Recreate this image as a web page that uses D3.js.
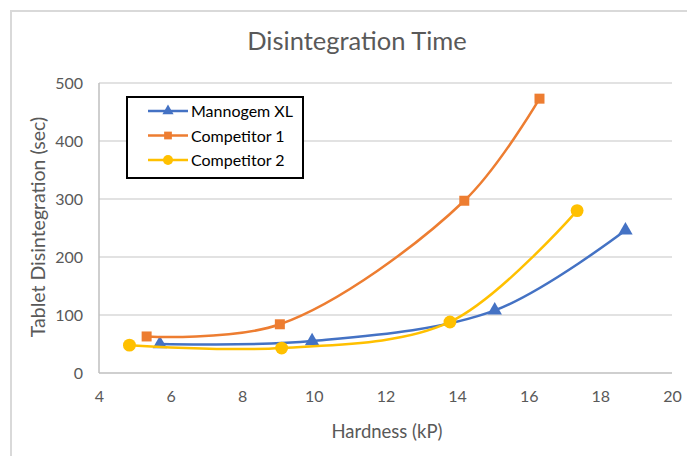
<!DOCTYPE html>
<html><head><meta charset="utf-8">
<script src="https://cdn.jsdelivr.net/npm/d3@7"></script>
<style>body{margin:0;background:#fff;}svg{display:block;font-family:Lato,"Open Sans",sans-serif;}</style>
</head><body>
<script>
const seriesNames = ["Mannogem XL", "Competitor 1", "Competitor 2"];
const mannogemX = [5.7, 9.95, 15.05, 18.7];
const mannogemY = [50, 55, 108, 246];
const comp1X = [5.33, 9.05, 14.2, 16.3];
const comp1Y = [63, 84, 297, 473];
const comp2X = [4.85, 9.1, 13.8, 17.35];
const comp2Y = [48, 43, 88, 280];
const xTicks = [4, 6, 8, 10, 12, 14, 16, 18, 20];
const yTicks = [0, 100, 200, 300, 400, 500];
const colors = ["#4472C4", "#ED7D31", "#FFC000"];
const markers = [d3.symbolTriangle, d3.symbolSquare, d3.symbolCircle];

const W = 687, H = 456;
const svg = d3.select("body").append("svg").attr("width", W).attr("height", H);
svg.append("rect").attr("x", 11).attr("y", 11).attr("width", W + 10).attr("height", H + 10)
  .attr("fill", "#fff").attr("stroke", "#D9D9D9").attr("stroke-width", 2);

const x = d3.scaleLinear().domain([4, 20]).range([99, 672]);
const y = d3.scaleLinear().domain([0, 500]).range([373, 83]);

// gridlines
svg.append("g").selectAll("line").data(yTicks).join("line")
  .attr("x1", x(4)).attr("x2", x(20)).attr("y1", d => y(d)).attr("y2", d => y(d))
  .attr("stroke", d => d === 0 ? "#BFBFBF" : "#D9D9D9").attr("stroke-width", 1.5);
svg.append("line").attr("x1", x(4)).attr("x2", x(4)).attr("y1", y(500)).attr("y2", y(0))
  .attr("stroke", "#BFBFBF").attr("stroke-width", 1.5);

const yAxis = svg.append("g").attr("transform", `translate(${x(4)},0)`)
  .call(d3.axisLeft(y).tickValues(yTicks).tickSize(0).tickPadding(16));
yAxis.select(".domain").remove();
yAxis.selectAll("text").attr("font-size", 16).attr("fill", "#595959").attr("font-family", "Lato");

const xAxis = svg.append("g").attr("transform", `translate(0,${y(0)})`)
  .call(d3.axisBottom(x).tickValues(xTicks).tickSize(0).tickPadding(18));
xAxis.select(".domain").remove();
xAxis.selectAll("text").attr("font-size", 16).attr("fill", "#595959").attr("font-family", "Lato");

svg.append("text").attr("x", 357).attr("y", 50).attr("text-anchor", "middle")
  .attr("font-size", 25.5).attr("fill", "#595959").text("Disintegration Time");
svg.append("text").attr("x", 387).attr("y", 438).attr("text-anchor", "middle")
  .attr("font-size", 18.5).attr("fill", "#595959").text("Hardness (kP)");
svg.append("text").attr("transform", "translate(45,227) rotate(-90)").attr("text-anchor", "middle")
  .attr("font-size", 19.5).attr("fill", "#595959").text("Tablet Disintegration (sec)");

const series = [
  mannogemX.map((v, i) => [v, mannogemY[i]]),
  comp1X.map((v, i) => [v, comp1Y[i]]),
  comp2X.map((v, i) => [v, comp2Y[i]])
];
const line = d3.line().x(d => x(d[0])).y(d => y(d[1])).curve(d3.curveCatmullRom.alpha(0.5));
const sizes = [90, 100, 130];
[0, 1, 2].forEach(i => {
  const g = svg.append("g");
  g.append("path").datum(series[i]).attr("d", line).attr("fill", "none")
    .attr("stroke", colors[i]).attr("stroke-width", 2.5);
  g.selectAll("path.m").data(series[i]).join("path").attr("class", "m")
    .attr("transform", d => `translate(${x(d[0])},${y(d[1])})`)
    .attr("d", d3.symbol().type(markers[i]).size(sizes[i])).attr("fill", colors[i]);
});

// legend
const lg = svg.append("g");
lg.append("rect").attr("x", 127).attr("y", 97).attr("width", 176).attr("height", 81)
  .attr("fill", "#fff").attr("stroke", "#000").attr("stroke-width", 2);
const ly = d3.scalePoint().domain(seriesNames).range([111, 160]);
seriesNames.forEach((n, i) => {
  lg.append("line").attr("x1", 148).attr("x2", 188).attr("y1", ly(n)).attr("y2", ly(n))
    .attr("stroke", colors[i]).attr("stroke-width", 2.5);
  lg.append("path").attr("transform", `translate(168,${ly(n)})`)
    .attr("d", d3.symbol().type(markers[i]).size(sizes[i] * 0.6)).attr("fill", colors[i]);
  lg.append("text").attr("x", 191).attr("y", ly(n) + 6).attr("font-size", 16)
    .attr("fill", "#000").text(n);
});
</script>
</body></html>
